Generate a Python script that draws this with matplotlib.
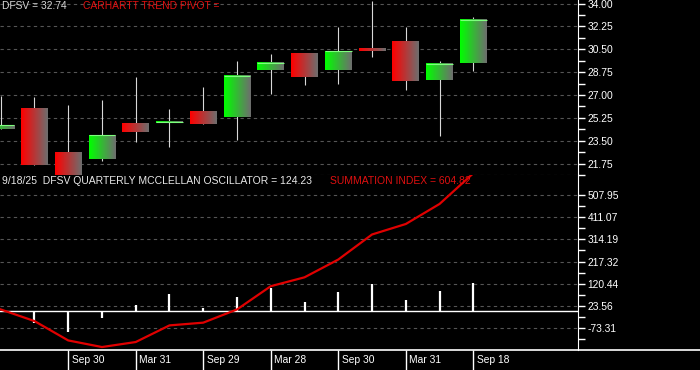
import numpy as np
import matplotlib.pyplot as plt
import matplotlib.transforms as mtransforms
from matplotlib.lines import Line2D

plt.rcParams['font.family'] = ['Liberation Sans', 'DejaVu Sans']

# quarterly candles for DFSV
opens  = [24.37, 25.96, 22.59, 22.08, 24.82, 24.85, 25.71, 25.30, 28.88, 30.15, 28.93, 30.58, 31.06, 28.12, 29.41]
highs  = [26.90, 26.82, 26.24, 26.65, 28.38, 25.89, 27.61, 29.62, 30.15, 30.25, 32.20, 34.20, 32.23, 29.62, 32.99]
lows   = [24.37, 21.65, 20.75, 21.95, 23.40, 23.02, 24.75, 23.53, 27.11, 27.74, 27.81, 29.90, 27.41, 23.86, 28.86]
closes = [24.67, 21.65, 20.75, 23.91, 24.16, 24.92, 24.75, 28.45, 29.46, 28.35, 30.38, 30.40, 28.04, 29.39, 32.74]

# mcclellan oscillator and summation index
osc = [0, -54, -92, -31, 25, 73, 12, 60, 99, 38, 82, 117, 47, 90, 124.23]
summation = [7, -44, -129, -158, -136, -63, -51, 7, 109, 148, 226, 336, 382, 470, 604.82]

date_pos = [2, 4, 6, 8, 10, 12, 14]
date_labels = ['Sep 30', 'Mar 31', 'Sep 29', 'Mar 28', 'Sep 30', 'Mar 31', 'Sep 18']

top_ticks = [21.75, 23.50, 25.25, 27.00, 28.75, 30.50, 32.25, 34.00]
bot_ticks = [-73.31, 23.56, 120.44, 217.32, 314.19, 411.07, 507.95]

W, H = 700, 370
fig = plt.figure(figsize=(7, 3.7), dpi=100, facecolor='black')
right = 578 / W
# top panel: pixel rows 0-175, bottom panel: rows 175-350
ax1 = fig.add_axes([0, 195 / H, right, 175 / H], facecolor='black')
ax2 = fig.add_axes([0, 20 / H, right, 175 / H], facecolor='black')

x = np.arange(len(closes))
bw = 0.79
gray = np.array([0.43, 0.43, 0.43])


def gradient(color):
    t = np.linspace(0, 1, 40)[None, :, None]
    c = np.array(color)[None, None, :]
    return c * (1 - t) + gray[None, None, :] * t


for i in x:
    o, c = opens[i], closes[i]
    up = c >= o
    ax1.vlines(i, lows[i], highs[i], color='#d8d8d8', lw=0.8, zorder=2)
    lo, hi = min(o, c), max(o, c)
    if hi - lo < 0.1:
        hi = lo + 0.1
    col = (0.0, 1.0, 0.0) if up else (1.0, 0.0, 0.0)
    ax1.imshow(gradient(col), extent=(i - bw / 2, i + bw / 2, lo, hi),
               aspect='auto', interpolation='bilinear', zorder=3)
    if up:
        ax1.hlines(hi, i - bw / 2, i + bw / 2, color='#7dff7d', lw=0.8, zorder=4)

ax1.set_xlim(-0.02, 17.1)
ax1.set_ylim(20.89, 34.27)
ax1.axhline(20.89, color='#555555', linestyle=(0, (3, 3)), lw=0.8)

ax2.vlines(x, 0, osc, color='white', lw=1.6, zorder=3)
ax2.axhline(0, color='white', lw=1, zorder=2)
ax2.plot(x, summation, color='#e00000', lw=1.6, zorder=4)
ax2.set_xlim(-0.02, 17.1)
ax2.set_ylim(-171, 597)

for ax, ticks in ((ax1, top_ticks), (ax2, bot_ticks)):
    for s in ax.spines.values():
        s.set_visible(False)
    ax.spines['right'].set_visible(True)
    ax.spines['right'].set_color('white')
    ax.yaxis.tick_right()
    ax.set_yticks(ticks)
    ax.set_yticklabels(['%.2f' % t for t in ticks])
    step = ticks[1] - ticks[0]
    ax.set_yticks([t + step / 2 for t in ticks[:-1]] + [ticks[0] - step / 2], minor=True)
    ax.tick_params(axis='y', which='both', colors='white', direction='out',
                   length=5, width=1, labelsize=7.4, pad=2)
    ax.grid(axis='y', color='#555555', linestyle=(0, (3, 3)), lw=0.8)

ax1.set_xticks([])

# bottom date axis
ax2.set_xticks(date_pos)
ax2.set_xticklabels([])
ax2.tick_params(axis='x', colors='white', direction='out', length=14.4, width=1)
off = mtransforms.ScaledTranslation(3.5 / 100, 0, fig.dpi_scale_trans)
trans = mtransforms.blended_transform_factory(ax2.transData, ax2.transAxes) + off
for p, lab in zip(date_pos, date_labels):
    ax2.text(p, -10 / 175, lab, transform=trans, color='white', fontsize=7.4,
             ha='left', va='center', clip_on=False)
fig.add_artist(Line2D([0, 1], [20 / H, 20 / H], color='white', lw=1.2,
                      transform=fig.transFigure))

# headers
fig.text(2 / W, 1 - 6 / H, 'DFSV = 32.74', color='#d8d8d8', fontsize=7.4, va='center')
fig.text(83 / W, 1 - 6 / H, 'CARHARTT TREND PIVOT =', color='#e01010', fontsize=7.4, va='center')
fig.text(2 / W, 1 - 181.5 / H, '9/18/25  DFSV QUARTERLY MCCLELLAN OSCILLATOR = 124.23',
         color='#e8e8e8', fontsize=7.5, va='center')
fig.text(330 / W, 1 - 181.5 / H, 'SUMMATION INDEX = 604.82', color='#e01010',
         fontsize=7.5, va='center')

fig.savefig('out.png', dpi=100, facecolor='black')
